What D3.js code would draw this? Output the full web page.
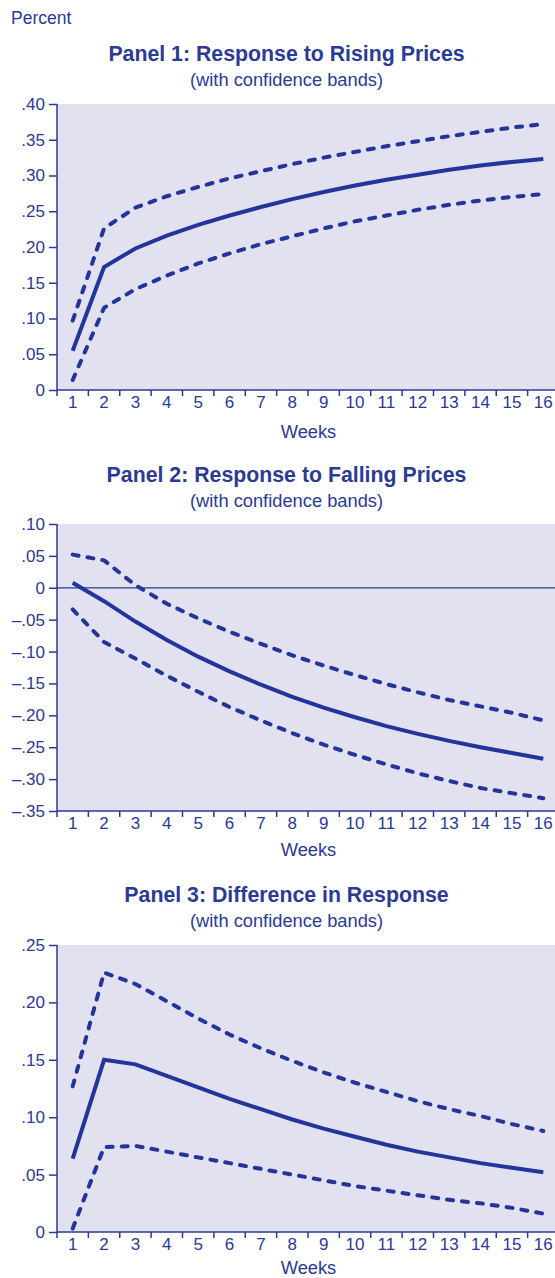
<!DOCTYPE html>
<html>
<head>
<meta charset="utf-8">
<script src="https://cdn.jsdelivr.net/npm/d3@7"></script>
<style>
  body { margin: 0; background: #fff; }
  svg text { font-family: "Liberation Sans", Arial, sans-serif; fill: #2b3a93; }
</style>
</head>
<body>
<div id="chart"></div>
<script>
// weeks on the x axis
var weeks = d3.range(1, 17);

// panel 1: rising prices
var p1Mid   = [0.055, 0.172, 0.198, 0.216, 0.231, 0.244, 0.256, 0.267, 0.277, 0.286, 0.294, 0.301, 0.308, 0.314, 0.319, 0.323];
var p1Upper = [0.097, 0.226, 0.255, 0.271, 0.284, 0.296, 0.306, 0.316, 0.325, 0.333, 0.341, 0.348, 0.355, 0.361, 0.367, 0.372];
var p1Lower = [0.014, 0.115, 0.141, 0.160, 0.177, 0.191, 0.204, 0.215, 0.226, 0.236, 0.244, 0.252, 0.259, 0.265, 0.270, 0.274];

// panel 2: falling prices
var p2Mid   = [0.008, -0.021, -0.053, -0.082, -0.108, -0.131, -0.152, -0.171, -0.188, -0.203, -0.217, -0.229, -0.240, -0.250, -0.259, -0.268];
var p2Upper = [0.052, 0.043, 0.004, -0.025, -0.048, -0.069, -0.088, -0.106, -0.122, -0.137, -0.151, -0.164, -0.176, -0.186, -0.196, -0.208];
var p2Lower = [-0.034, -0.085, -0.111, -0.138, -0.163, -0.187, -0.208, -0.228, -0.246, -0.262, -0.277, -0.291, -0.303, -0.314, -0.322, -0.330];

// panel 3: difference
var p3Mid   = [0.064, 0.150, 0.146, 0.136, 0.126, 0.116, 0.107, 0.098, 0.090, 0.083, 0.076, 0.070, 0.065, 0.060, 0.056, 0.052];
var p3Upper = [0.127, 0.226, 0.216, 0.201, 0.186, 0.172, 0.160, 0.149, 0.139, 0.130, 0.122, 0.114, 0.107, 0.101, 0.094, 0.088];
var p3Lower = [0.003, 0.074, 0.075, 0.070, 0.065, 0.060, 0.055, 0.050, 0.045, 0.040, 0.036, 0.032, 0.028, 0.025, 0.021, 0.016];

var p1Ticks = [0, 0.05, 0.10, 0.15, 0.20, 0.25, 0.30, 0.35, 0.40];
var p2Ticks = [-0.35, -0.30, -0.25, -0.20, -0.15, -0.10, -0.05, 0, 0.05, 0.10];
var p3Ticks = [0, 0.05, 0.10, 0.15, 0.20, 0.25];

var blue = "#2b3a93",
    lineBlue = "#23359a",
    bg = "#e1e1ef";

var W = 555, H = 1278;
var left = 57, right = 559;

var svg = d3.select("#chart").append("svg")
    .attr("width", W)
    .attr("height", H);

svg.append("text")
    .attr("x", 11).attr("y", 24)
    .style("font-size", "17.5px")
    .text("Percent");

// format .40, 0, –.05
function fmt(v) {
    if (Math.abs(v) < 1e-9) return "0";
    var s = Math.abs(v).toFixed(2).replace(/^0/, "");
    return (v < 0 ? "\u2013" : "") + s;
}

function panel(o) {
    var x = d3.scaleBand().domain(weeks).range([left, right]);
    var y = d3.scaleLinear().domain(o.domain).range([o.bottom, o.top]);

    svg.append("text")
        .attr("x", 286.5).attr("y", o.titleY)
        .attr("text-anchor", "middle")
        .style("font-size", "21.3px").style("font-weight", "bold")
        .text(o.title);
    svg.append("text")
        .attr("x", 286.5).attr("y", o.titleY + 25)
        .attr("text-anchor", "middle")
        .style("font-size", "18.3px")
        .text("(with confidence bands)");

    svg.append("rect")
        .attr("x", left).attr("y", o.top)
        .attr("width", W - left).attr("height", o.bottom - o.top)
        .attr("fill", bg);

    if (o.domain[0] < 0) {
        svg.append("line")
            .attr("x1", left).attr("x2", W)
            .attr("y1", y(0)).attr("y2", y(0))
            .attr("stroke", blue).attr("stroke-width", 1.2);
    }

    // y axis
    var ya = svg.append("g")
        .attr("transform", "translate(" + left + ",0)")
        .call(d3.axisLeft(y).tickValues(o.ticks).tickFormat(fmt).tickSize(8).tickPadding(4));
    ya.select(".domain").attr("stroke", blue).attr("stroke-width", 1.5).attr("d", "M0," + o.top + "V" + o.bottom);
    ya.selectAll(".tick line").attr("stroke", blue).attr("stroke-width", 1.5);
    ya.selectAll(".tick text").style("font-size", "17px").style("font-family", "Liberation Sans, Arial, sans-serif").attr("fill", blue);

    // x axis with ticks on band edges
    var xa = svg.append("g").attr("transform", "translate(0," + o.bottom + ")");
    xa.append("line")
        .attr("x1", left).attr("x2", W)
        .attr("stroke", blue).attr("stroke-width", 1.5);
    xa.selectAll(".xt")
        .data(weeks)
      .enter().append("line")
        .attr("x1", function(d) { return x(d); })
        .attr("x2", function(d) { return x(d); })
        .attr("y1", 0).attr("y2", 6)
        .attr("stroke", blue).attr("stroke-width", 1.5);
    xa.selectAll(".xl")
        .data(weeks)
      .enter().append("text")
        .attr("x", function(d) { return x(d) + x.bandwidth() / 2; })
        .attr("y", 18)
        .attr("text-anchor", "middle")
        .style("font-size", "17px")
        .text(function(d) { return d; });
    svg.append("text")
        .attr("x", 308.5).attr("y", o.bottom + o.weeksGap)
        .attr("text-anchor", "middle")
        .style("font-size", "18.3px")
        .text("Weeks");

    var line = d3.line()
        .x(function(d, i) { return x(weeks[i]) + x.bandwidth() / 2; })
        .y(function(d) { return y(d); });

    [o.upper, o.lower].forEach(function(s) {
        svg.append("path")
            .attr("d", line(s))
            .attr("fill", "none")
            .attr("stroke", lineBlue)
            .attr("stroke-width", 4)
            .attr("stroke-linecap", "round")
            .attr("stroke-linejoin", "round")
            .attr("stroke-dasharray", "6,9");
    });
    svg.append("path")
        .attr("d", line(o.mid))
        .attr("fill", "none")
        .attr("stroke", lineBlue)
        .attr("stroke-width", 4);
}

panel({ title: "Panel 1: Response to Rising Prices", titleY: 61, top: 104, bottom: 390, weeksGap: 48,
        domain: [0, 0.40], ticks: p1Ticks, mid: p1Mid, upper: p1Upper, lower: p1Lower });
panel({ title: "Panel 2: Response to Falling Prices", titleY: 482, top: 524, bottom: 811, weeksGap: 45,
        domain: [-0.35, 0.10], ticks: p2Ticks, mid: p2Mid, upper: p2Upper, lower: p2Lower });
panel({ title: "Panel 3: Difference in Response", titleY: 902, top: 945, bottom: 1232, weeksGap: 42,
        domain: [0, 0.25], ticks: p3Ticks, mid: p3Mid, upper: p3Upper, lower: p3Lower });
</script>
</body>
</html>
